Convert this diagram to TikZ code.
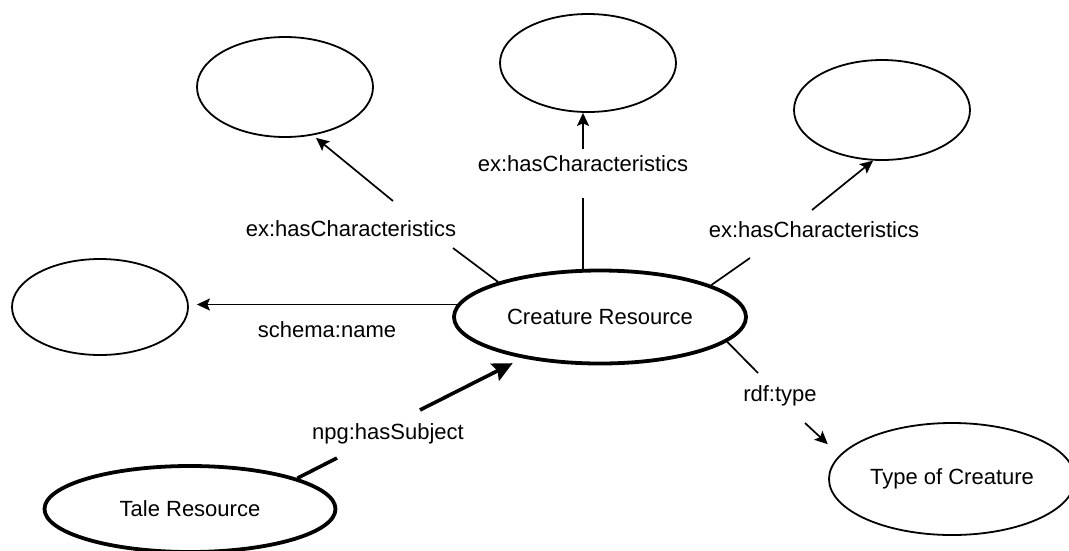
\documentclass[tikz,border=0pt]{standalone}
\usepackage{fontspec}
\setmainfont{Liberation Sans}
\usetikzlibrary{shapes.geometric,arrows.meta}
\begin{document}
\begin{tikzpicture}[x=1pt,y=-1pt,
  every node/.style={font=\fontsize{22}{26}\selectfont},
  res/.style={ellipse, draw, line width=1.8pt, inner sep=0pt},
  mainres/.style={res, line width=3.8pt},
  conn/.style={line width=1.7pt},
  arr/.style={conn, -{Stealth[length=13pt,width=12pt,inset=2.5pt]}},
  thickconn/.style={line width=3.6pt},
  thickarr/.style={thickconn, -{Stealth[length=20pt,width=19pt,inset=3pt]}},
  lbl/.style={anchor=base, inner sep=0pt}
]
\useasboundingbox (0,0) rectangle (1069,550);

% resources
\node[res, minimum width=176pt, minimum height=100pt] (tl) at (285,87) {};
\node[res, minimum width=176pt, minimum height=98pt] (tc) at (588,63) {};
\node[res, minimum width=176pt, minimum height=100pt] (tr) at (882,110) {};
\node[res, minimum width=176pt, minimum height=96pt] (lf) at (100,307) {};
\node[mainres, minimum width=292pt, minimum height=93pt] (cr) at (600,317) {Creature Resource};
\node[mainres, minimum width=291pt, minimum height=86pt] (tale) at (190,509) {Tale Resource};
\node[res, minimum width=246pt, minimum height=112pt] (toc) at (952,479) {Type of Creature};

% gap coordinates
\coordinate (a1) at (453,248); \coordinate (b1) at (393,201);
\coordinate (a2) at (583,198); \coordinate (b2) at (583,149);
\coordinate (a3) at (750,258); \coordinate (b3) at (812,210);
\coordinate (a5) at (337,458); \coordinate (b5) at (420,410);
\coordinate (a6) at (758,373); \coordinate (b6) at (805,423);

% connectors
\draw[conn] (cr.161) -- (a1);
\draw[arr, shorten >=4pt] (b1) -- (tl.300);

\draw[conn] (a2 |- cr.north) -- (a2);
\draw[arr] (b2) -- (b2 |- tc.south);

\draw[conn] (cr.16) -- (a3);
\draw[arr] (b3) -- (tr.260);

\draw[arr, shorten >=8pt] (cr.175) -- (cr.175 -| lf.east);

\draw[thickconn] (tale.16) -- (a5);
\draw[thickarr, shorten >=11pt] (b5) -- (cr.208);

\draw[conn] (cr.349) -- (a6);
\draw[arr, shorten >=16pt] (b6) -- (toc.168);

% labels
\node[lbl] (l1) at (351,236) {ex:hasCharacteristics};
\node[lbl] (l2) at (583,171) {ex:hasCharacteristics};
\node[lbl] (l3) at (814,237) {ex:hasCharacteristics};
\node[lbl] (l4) at (327,337) {schema:name};
\node[lbl] (l5) at (388,439) {npg:hasSubject};
\node[lbl] (l6) at (780,401) {rdf:type};
\end{tikzpicture}
\end{document}
